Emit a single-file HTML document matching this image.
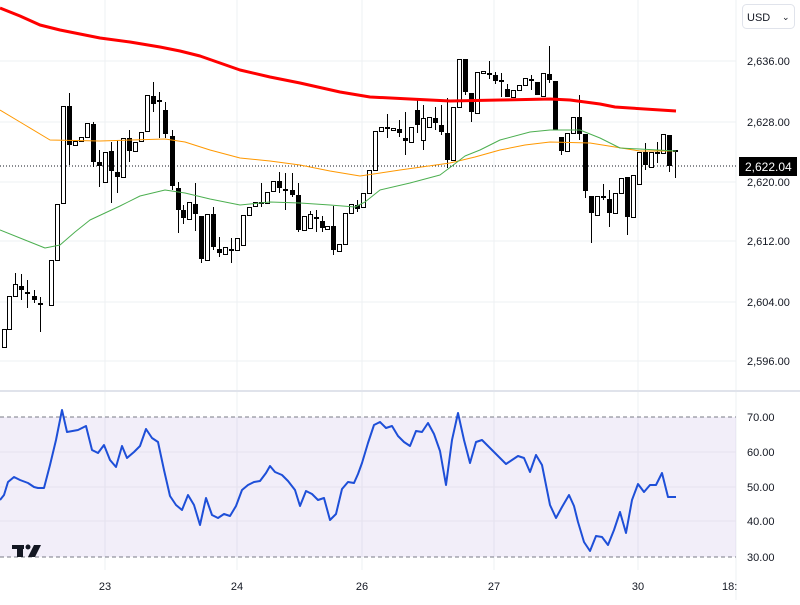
<!DOCTYPE html>
<html><head><meta charset="utf-8"><style>
body{margin:0;background:#fff;font-family:"Liberation Sans",sans-serif;}
svg text{font-family:"Liberation Sans",sans-serif;font-size:11px;fill:#131722}
</style></head><body>
<svg id="s" width="800" height="600" xmlns="http://www.w3.org/2000/svg">
<rect width="800" height="600" fill="#fff"/>
<g stroke="#eef0f3" stroke-width="1">
<line x1="0" x2="736" y1="61" y2="61"/><line x1="0" x2="736" y1="122" y2="122"/><line x1="0" x2="736" y1="182" y2="182"/><line x1="0" x2="736" y1="241" y2="241"/><line x1="0" x2="736" y1="302" y2="302"/><line x1="0" x2="736" y1="361" y2="361"/>
<line x1="105" x2="105" y1="0" y2="570"/><line x1="237" x2="237" y1="0" y2="570"/><line x1="362" x2="362" y1="0" y2="570"/><line x1="494" x2="494" y1="0" y2="570"/><line x1="638" x2="638" y1="0" y2="570"/>
<line x1="736" x2="736" y1="0" y2="600"/>
</g>
<line x1="0" x2="800" y1="391" y2="391" stroke="#e0e3eb" stroke-width="2"/>
<rect x="0" y="417" width="736" height="140" fill="#7e57c2" fill-opacity="0.1"/>
<g stroke="#e6e3ef"><line x1="0" x2="736" y1="452" y2="452"/><line x1="0" x2="736" y1="487" y2="487"/><line x1="0" x2="736" y1="521" y2="521"/></g>
<g stroke="#787b86" stroke-dasharray="4,3"><line x1="0" x2="736" y1="417" y2="417"/><line x1="0" x2="736" y1="557" y2="557"/></g>
<line x1="0" x2="736" y1="166" y2="166" stroke="#131722" stroke-dasharray="1,2"/>
<g id="c" shape-rendering="crispEdges"></g>
<polyline fill="none" stroke="#ff0000" stroke-width="3" stroke-linejoin="round" points="0,8 20,16 40,25 60,30 80,34 100,38 130,42 160,47 180,51 200,56 220,63 240,70 270,77 300,83 340,92 370,97 410,99 450,101 500,100 550,99 570,100 585,102 600,104 615,107 630,108 676,111"/>
<polyline fill="none" stroke="#ff9800" stroke-width="1" stroke-linejoin="round" points="0,110 25,125 50,140 100,141 165,139 185,142 210,150 240,158 270,161 300,165 330,171 360,176 400,170 450,163 475,157 500,150 525,145 550,142 590,143 615,147 640,151 676,151"/>
<polyline fill="none" stroke="#4caf50" stroke-width="1" stroke-linejoin="round" points="0,230 25,240 45,248 60,245 75,232 90,220 120,206 140,196 165,190 185,193 210,199 240,205 270,202 300,203 330,205 355,207 365,202 380,190 410,183 440,175 452,166 465,156 480,150 500,140 530,132 550,130 580,130 600,138 620,148 676,151"/>
<polyline fill="none" stroke="#1e4fd8" stroke-width="2" stroke-linejoin="round" points="0,500 4,495 8,482 14,477 20,480 28,483 34,487 38,488 44,488 50,465 56,440 62,410 67,432 78,430 86,426 92,450 98,453 104,445 110,460 116,467 122,446 127,458 134,452 140,446 146,429 152,438 158,442 164,470 170,496 176,505 182,510 188,495 194,505 200,525 206,498 212,515 218,518 224,514 230,516 236,506 242,490 248,485 254,482 260,481 266,473 270,466 275,472 282,475 288,481 295,490 300,506 306,491 312,494 318,500 324,498 330,520 336,514 342,489 348,482 354,483 358,474 362,463 368,443 374,425 380,422 386,428 392,426 398,436 404,442 410,446 416,431 422,432 428,423 434,434 440,451 446,485 452,440 458,413 464,440 470,463 476,442 482,440 488,446 494,452 500,458 506,464 512,460 518,456 524,458 530,472 536,455 542,465 550,505 556,518 562,507 569,495 574,506 578,522 584,542 590,551 596,536 602,537 608,545 614,530 620,512 626,533 632,500 638,484 644,492 650,485 656,485 662,473 668,497 676,497"/>
<g>
<text x="747" y="65">2,636.00</text><text x="747" y="126">2,628.00</text><text x="747" y="186">2,620.00</text><text x="747" y="245">2,612.00</text><text x="747" y="306">2,604.00</text><text x="747" y="365">2,596.00</text>
<text x="747" y="421">70.00</text><text x="747" y="456">60.00</text><text x="747" y="491">50.00</text><text x="747" y="525">40.00</text><text x="747" y="561">30.00</text>
<text x="105" y="590" text-anchor="middle">23</text><text x="237" y="590" text-anchor="middle">24</text><text x="362" y="590" text-anchor="middle">26</text><text x="494" y="590" text-anchor="middle">27</text><text x="638" y="590" text-anchor="middle">30</text><text x="722" y="590">18:</text>
</g>
<rect x="739" y="157" width="58" height="19" fill="#000"/>
<text x="745" y="171" style="fill:#fff;font-size:12px">2,622.04</text>
<rect x="742.5" y="4.5" width="52" height="24" rx="4" fill="#fff" stroke="#e0e3eb"/>
<text x="747" y="21" style="font-size:11px">USD</text>
<text x="782" y="20" style="font-size:9px">⌄</text>
<g fill="#131722">
<rect x="12" y="545" width="12" height="4"/><rect x="17" y="545" width="6" height="12"/>
<circle cx="28" cy="547" r="2.5"/><polygon points="34,545 41,545 35,557 28,557"/>
</g>
</svg>
<script>
var d=[[4,329,347,329,347,0],[9,296,329,296,329,0],[15,284,296,273,296,0],[21,286,290,274,300,1],[27,292,294,280,308,1],[34,296,300,290,303,1],[40,303,305,297,332,1],[51,260,305,260,305,0],[57,204,260,204,260,0],[63,106,203,106,203,0],[69,106,145,93,165,1],[75,141,145,141,145,0],[81,137,141,137,141,0],[87,123,137,123,137,0],[93,124,162,122,167,1],[99,162,166,150,187,1],[105,152,182,152,182,0],[111,151,171,142,203,1],[117,172,177,140,193,1],[123,138,177,138,177,0],[129,138,151,130,162,1],[135,142,151,142,151,0],[141,132,141,132,141,0],[147,95,131,95,131,0],[153,96,104,82,112,1],[159,100,101,92,138,1],[165,110,134,102,138,1],[172,136,186,130,190,1],[178,188,210,182,233,1],[183,210,218,205,224,1],[189,202,219,202,219,0],[195,204,214,183,231,1],[201,216,259,216,263,1],[207,214,260,214,260,0],[213,214,247,207,250,1],[219,249,253,237,257,1],[225,247,254,247,254,0],[231,249,251,238,263,1],[237,238,250,238,250,0],[243,215,245,215,245,0],[249,207,215,207,215,0],[255,202,206,202,206,0],[261,202,204,183,207,1],[267,192,203,192,203,0],[273,181,191,181,191,0],[279,181,188,172,193,1],[285,189,190,173,210,1],[292,190,195,173,197,1],[298,195,230,183,232,1],[304,216,230,216,230,0],[310,214,228,211,228,0],[316,217,219,210,232,1],[322,221,228,216,232,1],[327,226,229,226,229,0],[333,226,250,206,255,1],[339,244,251,244,251,0],[345,213,244,213,244,0],[351,204,213,204,213,0],[357,205,209,200,212,1],[363,193,207,193,207,0],[369,170,193,170,193,0],[375,131,170,131,170,0],[381,127,131,127,131,0],[387,127,129,114,138,1],[393,128,130,128,130,0],[399,129,133,120,137,1],[405,138,141,112,155,1],[411,127,142,127,142,0],[417,110,125,100,133,1],[423,118,140,105,150,0],[429,117,127,117,127,0],[435,118,123,107,130,1],[441,125,132,105,135,1],[447,133,160,98,168,1],[453,107,160,107,160,0],[459,59,107,59,107,0],[465,59,92,59,95,1],[471,93,112,93,122,1],[477,72,113,72,113,0],[483,71,73,71,73,0],[489,73,75,61,79,1],[495,75,81,72,84,1],[501,80,81,73,97,1],[507,89,97,84,97,1],[513,90,97,90,97,0],[519,85,90,85,90,0],[525,78,85,78,85,0],[531,79,80,75,90,1],[537,82,95,82,95,1],[543,73,96,73,96,0],[549,74,80,46,83,1],[555,81,130,81,130,1],[561,137,151,137,155,1],[567,133,151,133,151,0],[573,117,133,117,133,0],[579,117,134,95,140,1],[585,134,191,134,198,1],[591,196,213,196,243,1],[597,196,215,196,215,0],[603,196,197,184,200,1],[609,199,213,190,227,1],[615,193,213,193,213,0],[621,178,193,178,193,0],[627,177,217,177,235,1],[633,175,217,175,217,0],[639,152,184,152,184,0],[645,152,165,143,170,1],[651,152,167,152,167,0],[657,152,153,142,163,1],[663,134,153,134,153,0],[669,135,166,135,172,1],[675,150,152,150,178,1]];
var g=document.getElementById('c'),h='';
d.forEach(function(c){var x=c[0]+0.5;
h+='<line x1="'+x+'" x2="'+x+'" y1="'+c[3]+'" y2="'+c[4]+'" stroke="#000" stroke-width="1"/>';
var hh=Math.max(c[2]-c[1],2);
if(c[5])h+='<rect x="'+(c[0]-2)+'" y="'+c[1]+'" width="5" height="'+hh+'" fill="#000"/>';
else h+='<rect x="'+(c[0]-1.5)+'" y="'+(c[1]+0.5)+'" width="4" height="'+hh+'" fill="#fff" stroke="#000" stroke-width="1"/>';});
g.innerHTML=h;
</script>
</body></html>
